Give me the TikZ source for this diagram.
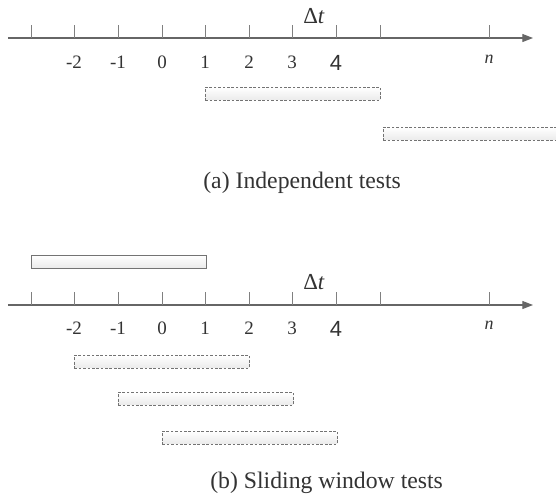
\documentclass[tikz,border=0pt]{standalone}
\usepackage{fontspec}
\setmainfont{Liberation Serif}
\newfontfamily\fourfont{Liberation Sans}
\usetikzlibrary{arrows.meta}

\tikzset{
  timeaxis/.style={draw=black!60, line width=0.6pt, -{Triangle[length=6pt,width=4.5pt]}},
  tickmark/.style={draw=black!50, line width=0.5pt},
  ticklabel/.style={anchor=base, inner sep=0pt, text=black!80, font=\fontsize{10.8}{12}\selectfont},
  caption/.style={anchor=base west, inner sep=0pt, text=black!80, font=\fontsize{13.5}{15}\selectfont},
  window/.style={anchor=north west, inner sep=0pt, minimum width=3.5cm, minimum height=0.25cm,
    draw=black!55, line width=0.4pt, top color=white, bottom color=black!8},
  testwin/.style={window, dash pattern=on 1.5pt off 1pt}
}

\begin{document}
\begin{tikzpicture}[x=0.02cm, y=-0.02cm]
  \useasboundingbox (0,0) rectangle (556,498);

  % (a) Independent tests
  \coordinate (a0) at (8,38);
  \coordinate (a1) at (533,38);
  \draw[timeaxis] (a0) -- (a1);
  \foreach \x in {31,74,118,162,205,249,292,336,380,489}
    \draw[tickmark] (\x,25) -- (\x,38);

  \node[ticklabel] (am2) at (74,68) {-2};
  \node[ticklabel] (am1) at (118,68) {-1};
  \node[ticklabel] (a0l) at (162,68) {0};
  \node[ticklabel] (a1l) at (205,68) {1};
  \node[ticklabel] (a2l) at (249,68) {2};
  \node[ticklabel] (a3l) at (292,68) {3};
  \node[ticklabel, font=\fourfont\fontsize{12.5}{14}\selectfont] (a4l) at (336,70) {4};
  \node[ticklabel, font=\itshape\fontsize{10.2}{11}\selectfont] (anl) at (489,63) {n};
  \node[ticklabel, font=\fontsize{13}{14}\selectfont] (adt) at (314,23) {Δ\textit{t}};

  \node[testwin] (aw1) at (205,87) {};
  \node[testwin] (aw2) at (383,127) {};

  \node[caption] (acap) at (203,188) {(a) Independent tests};

  % (b) Sliding window tests
  \coordinate (b0) at (8,305);
  \coordinate (b1) at (533,305);
  \draw[timeaxis] (b0) -- (b1);
  \foreach \x in {31,74,118,162,205,249,292,336,380,489}
    \draw[tickmark] (\x,292) -- (\x,305);

  \node[window] (bref) at (31,255) {};

  \node[ticklabel] (bm2) at (74,334) {-2};
  \node[ticklabel] (bm1) at (118,334) {-1};
  \node[ticklabel] (b0l) at (162,334) {0};
  \node[ticklabel] (b1l) at (205,334) {1};
  \node[ticklabel] (b2l) at (249,334) {2};
  \node[ticklabel] (b3l) at (292,334) {3};
  \node[ticklabel, font=\fourfont\fontsize{12.5}{14}\selectfont] (b4l) at (336,336) {4};
  \node[ticklabel, font=\itshape\fontsize{10.2}{11}\selectfont] (bnl) at (489,329) {n};
  \node[ticklabel, font=\fontsize{13}{14}\selectfont] (bdt) at (314,289) {Δ\textit{t}};

  \node[testwin] (bw1) at (74,355) {};
  \node[testwin] (bw2) at (118,392) {};
  \node[testwin] (bw3) at (162,431) {};

  \node[caption] (bcap) at (210,488) {(b) Sliding window tests};
\end{tikzpicture}
\end{document}
